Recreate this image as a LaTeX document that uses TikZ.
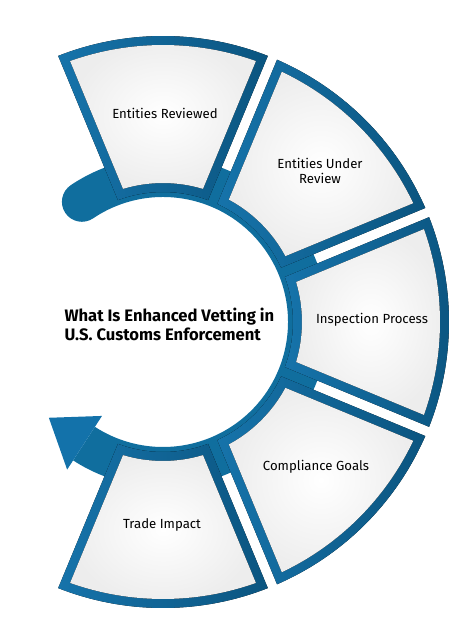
\documentclass[tikz,border=0pt]{standalone}
\usepackage{fontspec}
\setmainfont{Fira Sans}
\usetikzlibrary{positioning}
\definecolor{ringblue}{HTML}{106E9E}
\definecolor{headblue}{HTML}{1372AA}
\definecolor{segblue}{HTML}{1673AA}
\definecolor{segdark}{HTML}{0B5580}

\begin{document}
\begin{tikzpicture}[x=1pt,y=1pt,
                    segtext/.style={font=\fontsize{13.2}{15}\selectfont,align=center,text=black},
                    titletext/.style={font=\fontsize{16.6}{19}\selectfont\bfseries,align=left,text=black}]
  \useasboundingbox (-163,-313) rectangle (311,322);

  % ring with round tail and arrow head
  \fill[ringblue] (-123:165) arc[start angle=-123,end angle=124,radius=165]
        arc[start angle=124,end angle=304,radius=20]
        arc[start angle=124,end angle=-123,radius=125] -- cycle;
  \fill[headblue] (-123:112) -- (-140:149) -- (-123:176) -- cycle;

  % five segments
  \pgfmathsetmacro\oR{22.5-asin(5/286)}
  \pgfmathsetmacro\oI{22.5-asin(5/130)}
  \pgfmathsetmacro\iR{22.5-asin(14/277)}
  \pgfmathsetmacro\iI{22.5-asin(14/139)}
  \foreach \a in {90,45,0,-45,-90}{
    \pgfmathsetmacro\sa{\a-\oR}\pgfmathsetmacro\ea{\a+\oR}
    \pgfmathsetmacro\sb{\a+\oI}\pgfmathsetmacro\eb{\a-\oI}
    \fill[left color=segblue,right color=segdark]
      (\sa:286) arc[start angle=\sa,end angle=\ea,radius=286]
      -- (\sb:130) arc[start angle=\sb,end angle=\eb,radius=130] -- cycle;
    \pgfmathsetmacro\sc{\a-\iR}\pgfmathsetmacro\ec{\a+\iR}
    \pgfmathsetmacro\sd{\a+\iI}\pgfmathsetmacro\ed{\a-\iI}
    \fill[inner color=white,outer color=black!7]
      (\sc:277) arc[start angle=\sc,end angle=\ec,radius=277]
      -- (\sd:139) arc[start angle=\sd,end angle=\ed,radius=139] -- cycle;
  }

  \node[segtext] (ER)  at (2,209)    {Entities Reviewed};
  \node[segtext] (EUR) at (157,151)  {Entities Under\\Review};
  \node[segtext] (IP)  at (209,2)    {Inspection Process};
  \node[segtext] (CG)  at (153,-145) {Compliance Goals};
  \node[segtext] (TI)  at (-1,-203)  {Trade Impact};
  \node[titletext,anchor=west] (title) at (-102,-2.5)
    {What Is Enhanced Vetting in\\U.S. Customs Enforcement};
\end{tikzpicture}
\end{document}
